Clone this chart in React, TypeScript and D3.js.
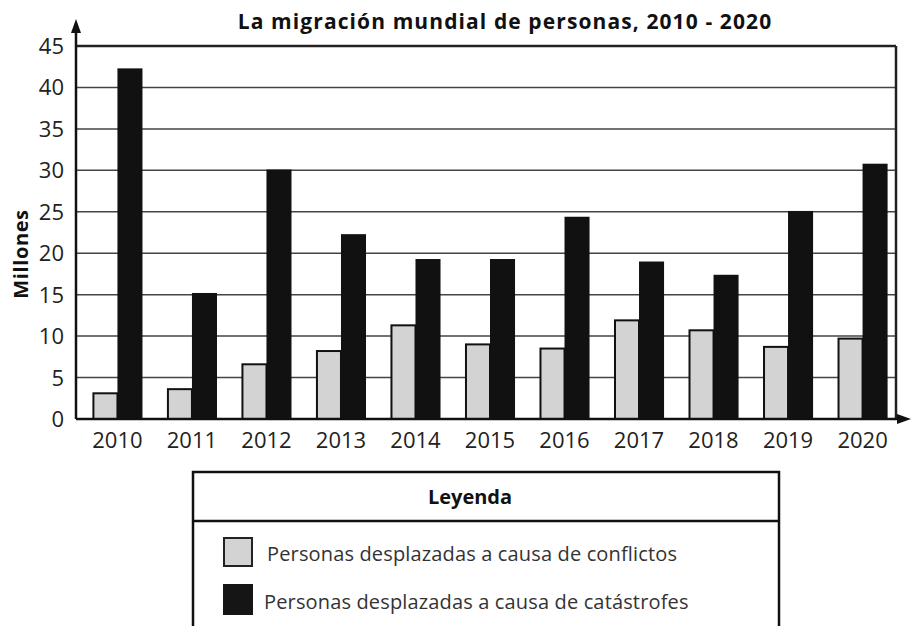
import React from "react";
import * as d3 from "d3";

const years = ["2010", "2011", "2012", "2013", "2014", "2015", "2016", "2017", "2018", "2019", "2020"];
const conflictos = [3.1, 3.6, 6.6, 8.2, 11.3, 9.0, 8.5, 11.9, 10.7, 8.7, 9.7];
const catastrofes = [42.3, 15.2, 30.1, 22.3, 19.3, 19.3, 24.4, 19.0, 17.4, 25.1, 30.8];
const yTicks = [0, 5, 10, 15, 20, 25, 30, 35, 40, 45];
const legendLabels = [
  "Personas desplazadas a causa de conflictos",
  "Personas desplazadas a causa de catástrofes",
];

const W = 912;
const H = 626;
const left = 76;
const right = 896;
const top = 46;
const bottom = 419;
const font = "'Open Sans', 'DejaVu Sans', sans-serif";

const App = () => {
  const x = d3.scaleBand().domain(years).range([left + 4, right + 4]).paddingInner(0.355).paddingOuter(0.18);
  const y = d3.scaleLinear().domain([0, 45]).range([bottom, top]);
  const half = x.bandwidth() / 2;

  return (
    <svg width={W} height={H} style={{ position: "absolute", left: 0, top: 0, background: "#fff" }}>
      <text x={505} y={29} textAnchor="middle" fontFamily={font} fontWeight="bold" fontSize={21} letterSpacing={1.1} fill="#111">
        La migración mundial de personas, 2010 - 2020
      </text>

      {/* grid */}
      {yTicks.filter((t) => t > 0).map((t) => (
        <line key={t} x1={left} x2={right} y1={y(t)} y2={y(t)} stroke={t === 45 ? "#222" : "#444"} strokeWidth={t === 45 ? 2.5 : 1.5} />
      ))}
      <line x1={right} x2={right} y1={top} y2={bottom} stroke="#222" strokeWidth={2.5} />

      {/* bars */}
      {years.map((yr, i) => (
        <g key={yr}>
          <rect x={x(yr)!} y={y(conflictos[i])} width={half} height={bottom - y(conflictos[i])} fill="#d3d3d3" stroke="#111" strokeWidth={2} />
          <rect x={x(yr)! + half} y={y(catastrofes[i])} width={half + 1} height={bottom - y(catastrofes[i])} fill="#111" />
        </g>
      ))}

      {/* axes */}
      <line x1={left} x2={left} y1={bottom} y2={26} stroke="#111" strokeWidth={2.5} />
      <path d={`M${left - 5},${33} L${left},${19} L${left + 5},${33} Z`} fill="#111" />
      <line x1={left} x2={904} y1={bottom} y2={bottom} stroke="#111" strokeWidth={2.5} />
      <path d={`M${897},${bottom - 5} L${911},${bottom} L${897},${bottom + 5} Z`} fill="#111" />

      {yTicks.map((t) => (
        <text key={t} x={64} y={y(t) + 8} textAnchor="end" fontFamily={font} fontSize={22} fill="#222">
          {t}
        </text>
      ))}
      {years.map((yr) => (
        <text key={yr} x={x(yr)! + half} y={448} textAnchor="middle" fontFamily={font} fontSize={22} fill="#222">
          {yr}
        </text>
      ))}
      <text transform="translate(28,254) rotate(-90)" textAnchor="middle" fontFamily={font} fontWeight="bold" fontSize={20} letterSpacing={0.6} fill="#111">
        Millones
      </text>

      {/* legend */}
      <path d={`M193,${H} L193,472 L779,472 L779,${H}`} fill="none" stroke="#111" strokeWidth={2.5} />
      <line x1={193} x2={779} y1={521} y2={521} stroke="#111" strokeWidth={2.5} />
      <text x={470} y={504} textAnchor="middle" fontFamily={font} fontWeight="bold" fontSize={20} fill="#111">
        Leyenda
      </text>
      <rect x={224} y={538} width={28} height={28} fill="#d3d3d3" stroke="#222" strokeWidth={2} />
      <rect x={223} y={584} width={30} height={31} fill="#151515" />
      <text x={267} y={561} fontFamily={font} fontSize={20} letterSpacing={0.15} fill="#333">{legendLabels[0]}</text>
      <text x={264} y={609} fontFamily={font} fontSize={20} letterSpacing={0.15} fill="#333">{legendLabels[1]}</text>
    </svg>
  );
};

export default App;
